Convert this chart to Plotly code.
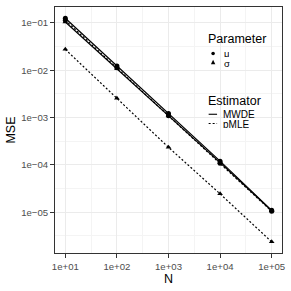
import plotly.graph_objects as go

# ---- data ----
N = [10, 100, 1000, 10000, 100000]
mse_mu_mwde = [0.125, 0.0123, 0.00121, 1.2e-4, 1.1e-5]
mse_sigma_mwde = [0.104, 0.0108, 0.00111, 1.12e-4, 1.08e-5]
mse_mu_pmle = [0.113, 0.0112, 0.00109, 1.08e-4, 1.05e-5]
mse_sigma_pmle = [0.0275, 0.00254, 0.000235, 2.45e-5, 2.38e-6]

x_tickvals = [1e1, 1e2, 1e3, 1e4, 1e5]
x_ticktext = ["1e+01", "1e+02", "1e+03", "1e+04", "1e+05"]
y_tickvals = [1e-5, 1e-4, 1e-3, 1e-2, 1e-1]
y_ticktext = ["1e\u221205", "1e\u221204", "1e\u221203", "1e\u221202", "1e\u221201"]

parameters = ["\u03bc", "\u03c3"]
estimators = ["MWDE", "pMLE"]

series = [
    ("MWDE", "\u03bc", mse_mu_mwde),
    ("MWDE", "\u03c3", mse_sigma_mwde),
    ("pMLE", "\u03bc", mse_mu_pmle),
    ("pMLE", "\u03c3", mse_sigma_pmle),
]

W, H = 291, 291
L, R, T, B = 55, 7, 6, 38
FONT = "Liberation Sans, Arial, sans-serif"

dash_map = {"MWDE": "solid", "pMLE": "2px,2px"}
sym_map = {"\u03bc": "circle", "\u03c3": "triangle-up"}

fig = go.Figure()
for est, par, vals in series:
    fig.add_trace(go.Scatter(
        x=N, y=vals, mode="lines+markers",
        line=dict(color="black", width=1.2, dash=dash_map[est]),
        marker=dict(symbol=sym_map[par], size=5, color="black"),
        showlegend=False, hoverinfo="skip",
    ))

pw, ph = W - L - R, H - T - B


def px(xp):
    return (xp - L) / pw


def py(yp):
    return (H - B - yp) / ph


shapes = []
annotations = []
# legend backgrounds
for (x0, y0, x1, y1) in [(205, 27, 273, 72), (205, 88, 273, 132)]:
    shapes.append(dict(type="rect", xref="paper", yref="paper",
                       x0=px(x0), x1=px(x1), y0=py(y1), y1=py(y0),
                       fillcolor="white", line=dict(width=0), layer="between"))

# legend titles
for txt, yc in [("Parameter", 38.5), ("Estimator", 100.3)]:
    annotations.append(dict(text=txt, xref="paper", yref="paper",
                            x=px(207), y=py(yc), xanchor="left", yanchor="middle",
                            showarrow=False, font=dict(family=FONT, size=12.5, color="black")))

# parameter keys
key_cx = 214.5
for par, yc, ty in zip(parameters, [52.7, 61.5], [52.0, 62.0]):
    if sym_map[par] == "circle":
        r = 1.8
        shapes.append(dict(type="circle", xref="paper", yref="paper",
                           x0=px(key_cx - r), x1=px(key_cx + r),
                           y0=py(yc + r), y1=py(yc - r),
                           fillcolor="black", line=dict(width=0), layer="above"))
    else:
        s = 2.2
        path = "M {a},{b} L {c},{d} L {e},{f} Z".format(
            a=px(key_cx - s), b=py(yc + s * 0.9),
            c=px(key_cx + s), d=py(yc + s * 0.9),
            e=px(key_cx), f=py(yc - s * 1.1))
        shapes.append(dict(type="path", xref="paper", yref="paper", path=path,
                           fillcolor="black", line=dict(width=0), layer="above"))
    annotations.append(dict(text=par, xref="paper", yref="paper",
                            x=px(223), y=py(ty), xanchor="left", yanchor="middle",
                            height=8, showarrow=False,
                            font=dict(family=FONT, size=9.5, color="black")))

# estimator keys
for est, yc in zip(estimators, [113.7, 123.0]):
    shapes.append(dict(type="line", xref="paper", yref="paper",
                       x0=px(210), x1=px(218.5), y0=py(yc), y1=py(yc),
                       line=dict(color="black", width=1.1, dash=dash_map[est]),
                       layer="above"))
    annotations.append(dict(text=est, xref="paper", yref="paper",
                            x=px(222), y=py(yc), xanchor="left", yanchor="middle",
                            height=8, showarrow=False,
                            font=dict(family=FONT, size=10, color="black")))

axis_common = dict(
    type="log",
    showline=True, linecolor="#333333", linewidth=1, mirror=True,
    ticks="outside", ticklen=4, tickcolor="#333333", tickwidth=1,
    showgrid=True, gridcolor="#EBEBEB", gridwidth=1,
    zeroline=False,
    tickfont=dict(family=FONT, size=9.6, color="#4D4D4D"),
)

fig.update_layout(
    width=W, height=H, autosize=False,
    margin=dict(l=L, r=R, t=T, b=B, pad=0),
    paper_bgcolor="white", plot_bgcolor="white",
    showlegend=False,
    font=dict(family=FONT, color="black"),
    xaxis=dict(
        axis_common,
        range=[0.8, 5.2],
        tickvals=x_tickvals, ticktext=x_ticktext,
        minor=dict(tickvals=[10 ** 1.5, 10 ** 2.5, 10 ** 3.5, 10 ** 4.5],
                   showgrid=True, gridcolor="#F4F4F4", gridwidth=0.6),
        title=dict(text="N", font=dict(family=FONT, size=12.5, color="black"), standoff=3),
    ),
    yaxis=dict(
        axis_common,
        range=[-5.859, -0.667],
        tickvals=y_tickvals, ticktext=y_ticktext,
        minor=dict(tickvals=[10 ** -5.5, 10 ** -4.5, 10 ** -3.5, 10 ** -2.5, 10 ** -1.5],
                   showgrid=True, gridcolor="#F4F4F4", gridwidth=0.6),
        title=dict(text="MSE", font=dict(family=FONT, size=12.5, color="black"), standoff=2),
    ),
    shapes=shapes,
    annotations=annotations,
)

fig.write_html("out.html", config={"displayModeBar": False},
               post_script="document.body.style.margin='0';document.body.style.overflow='hidden';")
